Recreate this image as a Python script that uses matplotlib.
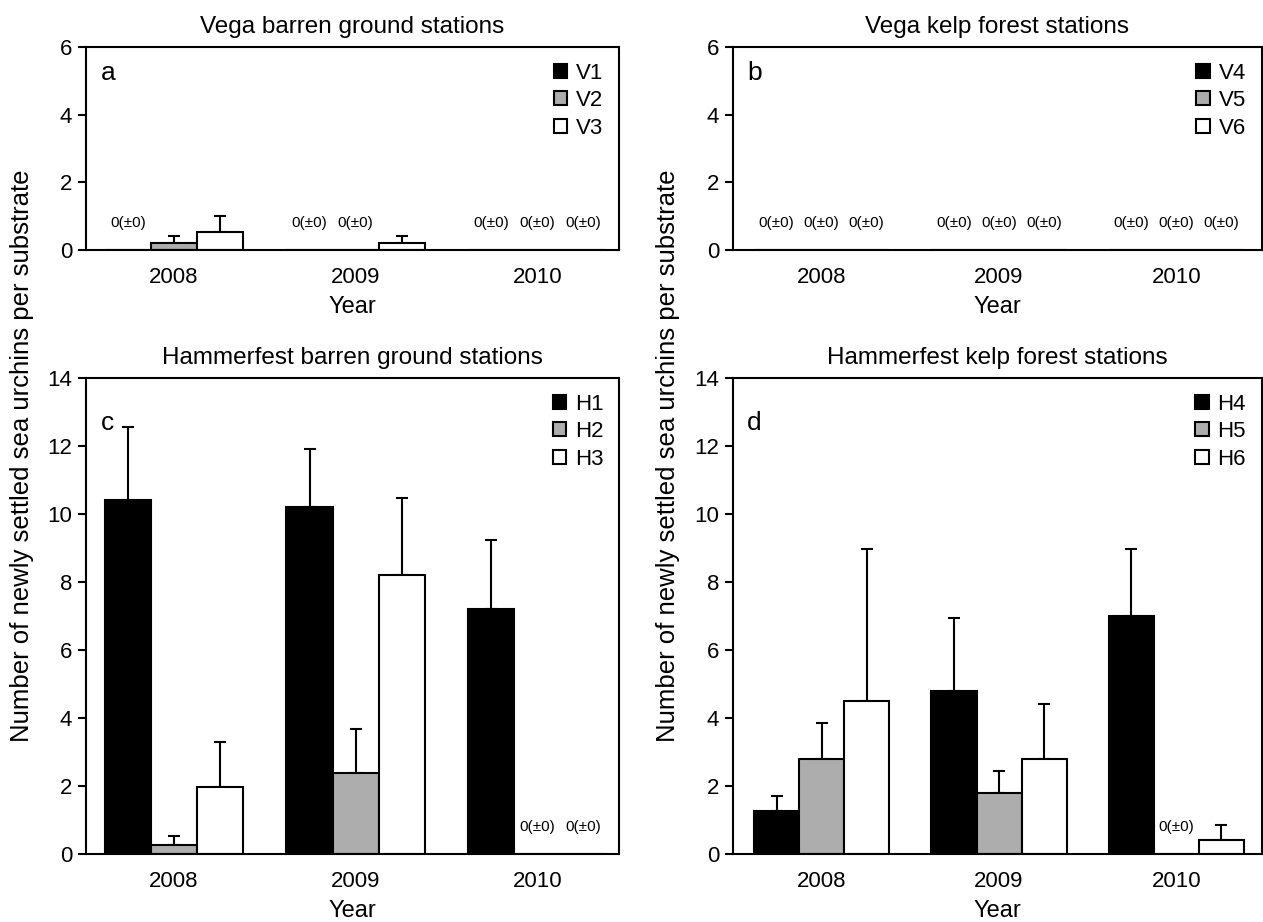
import numpy as np
import matplotlib
matplotlib.use('Agg')
from matplotlib import pyplot as plt

plt.rcParams['font.family'] = ['Liberation Sans', 'DejaVu Sans']

years = ['2008', '2009', '2010']

# Vega barren ground (a)
a_names = ['V1', 'V2', 'V3']
a_mean = [[0, 0, 0], [0.22, 0, 0], [0.54, 0.22, 0]]
a_err = [[0, 0, 0], [0.19, 0, 0], [0.46, 0.19, 0]]

# Vega kelp forest (b)
b_names = ['V4', 'V5', 'V6']
b_mean = [[0, 0, 0], [0, 0, 0], [0, 0, 0]]
b_err = [[0, 0, 0], [0, 0, 0], [0, 0, 0]]

# Hammerfest barren ground (c)
c_names = ['H1', 'H2', 'H3']
c_mean = [[10.4, 10.22, 7.2], [0.27, 2.38, 0], [1.98, 8.22, 0]]
c_err = [[2.16, 1.68, 2.05], [0.25, 1.3, 0], [1.31, 2.25, 0]]

# Hammerfest kelp forest (d)
d_names = ['H4', 'H5', 'H6']
d_mean = [[1.27, 4.8, 7.0], [2.79, 1.79, 0], [4.49, 2.79, 0.42]]
d_err = [[0.44, 2.15, 1.98], [1.07, 0.66, 0], [4.49, 1.61, 0.42]]

colores = ['black', '#adadad', 'white']
ancho = 0.254


def panel(ax, nombres, medias, errores, titulo, letra, ymax, xlim):
    x = np.arange(len(years))
    for i in range(3):
        pos = x + (i - 1) * ancho
        ax.bar(pos, medias[i], ancho, color=colores[i], edgecolor='black',
               linewidth=1.5, label=nombres[i], zorder=2)
        for j in range(len(years)):
            if errores[i][j] > 0:
                ax.errorbar(pos[j], medias[i][j], yerr=[[0], [errores[i][j]]],
                            fmt='none', ecolor='black', elinewidth=1.5,
                            capsize=4.5, capthick=1.5, zorder=1)
            elif medias[i][j] == 0:
                ax.text(pos[j], 0.8, '0(\u00b10)', ha='center', va='center',
                        fontsize=11, family=['Liberation Sans Narrow', 'Liberation Sans'])
    ax.set_xlim(xlim)
    ax.set_ylim(0, ymax)
    ax.set_yticks(np.arange(0, ymax + 1, 2))
    ax.set_xticks(x)
    ax.set_xticklabels(years)
    ax.tick_params(axis='x', length=0, pad=12, labelsize=16)
    ax.tick_params(axis='y', length=6, width=1.5, direction='out', labelsize=16, pad=4)
    for s in ax.spines.values():
        s.set_linewidth(1.5)
    ax.set_title(titulo, fontsize=17.5, pad=10)
    ax.set_xlabel('Year', fontsize=17, labelpad=6)
    ax.text(0.027, 0.93, letra, transform=ax.transAxes, fontsize=19, va='top')
    ax.legend(loc='upper right', frameon=False, fontsize=16, handlelength=0.6,
              handleheight=0.6, handletextpad=0.4, labelspacing=0.3,
              borderaxespad=0.3)


fig = plt.figure(figsize=(12.63, 9.22), dpi=100)
W, H = 1263.0, 922.0
axa = fig.add_axes([86 / W, 1 - 250 / H, 533 / W, 203 / H])
axb = fig.add_axes([733 / W, 1 - 250 / H, 528.5 / W, 203 / H])
axc = fig.add_axes([86 / W, 1 - 854 / H, 533 / W, 476 / H])
axd = fig.add_axes([733 / W, 1 - 854 / H, 528.5 / W, 476 / H])

panel(axa, a_names, a_mean, a_err, 'Vega barren ground stations', 'a', 6, (-0.485, 2.45))
panel(axb, b_names, b_mean, b_err, 'Vega kelp forest stations', 'b', 6, (-0.5, 2.48))
panel(axc, c_names, c_mean, c_err, 'Hammerfest barren ground stations', 'c', 14, (-0.485, 2.45))
panel(axd, d_names, d_mean, d_err, 'Hammerfest kelp forest stations', 'd', 14, (-0.5, 2.48))

ylab = 'Number of newly settled sea urchins per substrate'
fig.text(22 / W, 1 - 456 / H, ylab, rotation=90, ha='center', va='center', fontsize=18.5)
fig.text(668 / W, 1 - 456 / H, ylab, rotation=90, ha='center', va='center', fontsize=18.5)

plt.savefig('out.png', dpi=100)
